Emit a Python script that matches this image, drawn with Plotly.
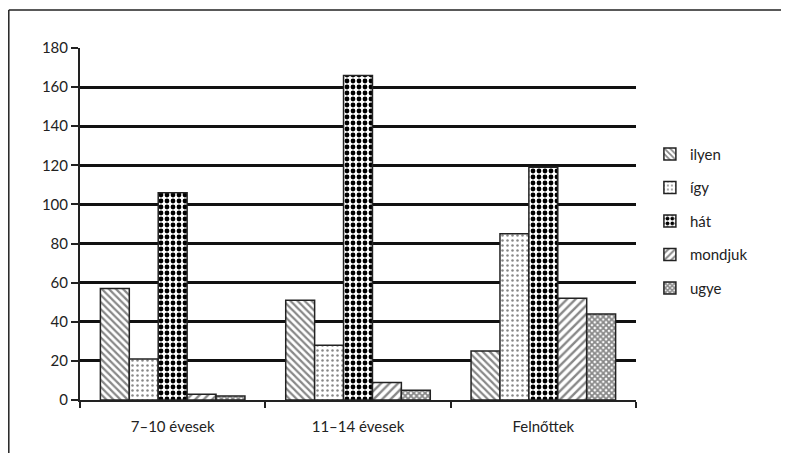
import plotly.graph_objects as go

categories = ["7–10 évesek", "11–14 évesek", "Felnőttek"]
series_names = ["ilyen", "így", "hát", "mondjuk", "ugye"]
ilyen = [57, 51, 25]
igy = [21, 28, 85]
hat = [106, 166, 119]
mondjuk = [3, 9, 52]
ugye = [2, 5, 44]
y_ticks = [0, 20, 40, 60, 80, 100, 120, 140, 160, 180]

values = [ilyen, igy, hat, mondjuk, ugye]
patterns = [
    dict(shape="\\", size=5, solidity=0.45, fgcolor="#111", bgcolor="white"),
    dict(shape=".", size=5, solidity=0.2, fgcolor="#111", bgcolor="white"),
    dict(shape=".", size=6, solidity=0.5, fgcolor="#000", bgcolor="white", fgopacity=1),
    dict(shape="/", size=6, solidity=0.4, fgcolor="#111", bgcolor="white"),
    dict(shape="x", size=4, solidity=0.7, fgcolor="#111", bgcolor="white"),
]

fig = go.Figure()
for name, vals, pat in zip(series_names, values, patterns):
    fig.add_trace(go.Bar(
        x=categories, y=vals, name=name, legendgroup=name,
        marker=dict(color="white", pattern=pat, line=dict(color="#222", width=1.5)),
    ))

font = dict(family="Lato, Open Sans, sans-serif", size=15, color="#222")
fig.update_layout(
    width=789, height=453,
    margin=dict(l=72, r=161, t=40, b=61),
    paper_bgcolor="white", plot_bgcolor="white",
    font=font,
    barmode="group", bargap=0.22, bargroupgap=0,
    showlegend=True,
    legend=dict(x=1.025, y=0.745, xanchor="left", yanchor="top",
                tracegroupgap=11, font=dict(size=15),
                bgcolor="rgba(0,0,0,0)"),
    xaxis=dict(showline=True, linecolor="#222", linewidth=2,
               ticks="outside", tickson="boundaries", ticklen=6,
               tickcolor="#222", tickwidth=2, showgrid=False,
               ticklabelstandoff=12),
    yaxis=dict(range=[0, 180], tickvals=y_ticks, showline=True,
               linecolor="#222", linewidth=2, ticks="outside",
               ticklen=7, tickcolor="#222", tickwidth=2,
               showgrid=True, gridcolor="#111", gridwidth=2.5,
               zeroline=False),
    shapes=[
        dict(type="line", xref="paper", yref="paper",
             x0=(8.8 - 80) / 556, x1=(800 - 80) / 556,
             y0=(400 - 10) / 352, y1=(400 - 10) / 352,
             line=dict(color="#222", width=1.5)),
        dict(type="line", xref="paper", yref="paper",
             x0=(8.8 - 80) / 556, x1=(8.8 - 80) / 556,
             y0=(400 - 10) / 352, y1=(400 - 470) / 352,
             line=dict(color="#222", width=1.5)),
    ],
)
fig.write_html("out.html")
